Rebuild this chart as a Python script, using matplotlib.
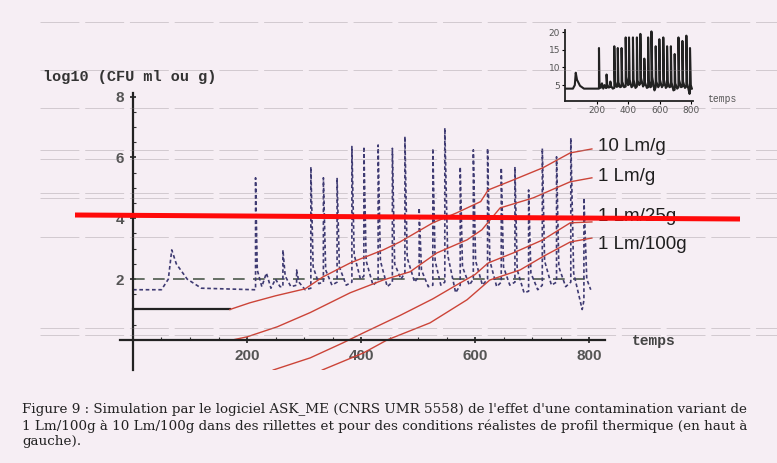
import numpy as np
import matplotlib.pyplot as plt
from matplotlib.lines import Line2D

# growth curves: time, log10(CFU)
c10_t = [170, 205, 250, 302, 333, 381, 439, 468, 526, 568, 610, 623, 667, 719, 767, 805]
c10_y = [1.0, 1.22, 1.45, 1.68, 2.07, 2.53, 2.96, 3.22, 3.85, 4.18, 4.55, 4.93, 5.26, 5.66, 6.15, 6.28]
c1_t = [175, 200, 253, 311, 381, 439, 486, 533, 586, 612, 644, 702, 767, 805]
c1_y = [0.0, 0.1, 0.43, 0.9, 1.55, 1.97, 2.24, 2.86, 3.29, 3.62, 4.34, 4.67, 5.2, 5.33]
c25_t = [246, 311, 368, 404, 468, 526, 568, 600, 623, 667, 719, 767, 805]
c25_y = [-0.99, -0.59, -0.1, 0.23, 0.8, 1.35, 1.81, 2.15, 2.53, 2.86, 3.29, 3.85, 3.88]
c100_t = [332, 404, 446, 521, 586, 626, 679, 720, 767, 805]
c100_y = [-0.99, -0.43, 0.0, 0.56, 1.32, 1.97, 2.3, 2.75, 3.22, 3.35]
lag_t = [0, 170]
lag_y = [1.0, 1.0]
curve_labels = ["10 Lm/g", "1 Lm/g", "1 Lm/25g", "1 Lm/100g"]
label_y = [6.35, 5.36, 4.05, 3.13]

# thermal profile (same time points): scaled in main plot, raw in inset
prof_t = [0, 50, 62, 68, 76, 95, 120, 213,
          215, 215, 218, 226, 234, 242, 250, 258,
          263, 263, 267, 277,
          287, 287, 291, 302,
          312, 312, 316, 326,
          334, 334, 338, 349,
          358, 358, 362, 374,
          384, 384, 388, 399,
          405, 405, 409, 421,
          430, 430, 434, 446,
          455, 455, 459, 470,
          477, 477, 481, 494,
          502, 502, 506, 518,
          526, 526, 530, 540,
          547, 547, 552, 566,
          574, 574, 578, 590,
          597, 597, 601, 613,
          622, 622, 626, 638,
          646, 646, 650, 661,
          670, 670, 674, 686,
          694, 694, 698, 710,
          718, 718, 722, 734,
          743, 743, 747, 759,
          768, 768, 773, 788,
          791, 791, 796, 803]
prof_log = [1.65, 1.65, 2.0, 2.96, 2.5, 2.0, 1.7, 1.65,
            1.65, 5.33, 2.3, 1.75, 2.2, 1.7, 2.0, 1.75,
            1.75, 2.96, 2.1, 1.75,
            1.8, 2.30, 1.9, 1.65,
            1.7, 5.69, 2.4, 1.85,
            1.9, 5.33, 2.3, 1.8,
            1.9, 5.33, 2.4, 1.8,
            1.9, 6.36, 2.8, 2.0,
            2.1, 6.36, 2.6, 1.8,
            1.95, 6.41, 2.6, 1.75,
            1.9, 6.30, 2.5, 2.0,
            2.2, 6.69, 2.7, 1.9,
            2.1, 4.34, 2.3, 1.75,
            1.8, 6.30, 2.6, 1.8,
            1.9, 6.97, 2.8, 1.55,
            1.8, 5.69, 2.4, 1.8,
            2.0, 6.25, 2.6, 1.8,
            2.0, 6.30, 2.6, 1.75,
            1.9, 5.66, 2.4, 1.8,
            1.9, 5.69, 2.3, 1.55,
            1.6, 4.93, 2.2, 1.65,
            1.8, 6.30, 2.6, 1.8,
            1.9, 6.02, 2.4, 1.75,
            1.9, 6.64, 2.2, 1.0,
            1.3, 4.67, 2.0, 1.65]
prof_temp = [4.0, 4.0, 5.0, 8.5, 6.5, 4.8, 4.0, 4.0,
             4.0, 15.5, 5.5, 4.2, 5.5, 4.0, 5.0, 4.2,
             4.2, 8.0, 5.2, 4.3,
             4.5, 6.0, 4.8, 4.0,
             4.2, 16.0, 6.0, 4.5,
             4.6, 15.5, 5.8, 4.4,
             4.6, 15.5, 6.0, 4.4,
             4.6, 18.5, 7.3, 5.0,
             5.2, 18.5, 6.5, 4.4,
             4.8, 18.5, 6.5, 4.2,
             4.6, 18.5, 6.3, 5.0,
             5.5, 19.5, 7.0, 4.6,
             5.2, 12.5, 5.8, 4.2,
             4.4, 18.5, 6.5, 4.4,
             4.6, 20.2, 7.3, 3.5,
             4.4, 16.0, 6.0, 4.4,
             5.0, 18.0, 6.5, 4.4,
             5.0, 18.5, 6.5, 4.2,
             4.6, 16.0, 6.0, 4.4,
             4.6, 16.0, 5.8, 3.5,
             3.7, 13.8, 5.5, 4.0,
             4.4, 18.5, 6.5, 4.4,
             4.6, 17.5, 6.0, 4.2,
             4.6, 19.0, 5.5, 2.5,
             3.0, 15.5, 5.0, 4.0]
limit_t = [0, 800]
limit_y = [2.0, 2.0]

caption = ["Figure 9 : Simulation par le logiciel ASK_ME (CNRS UMR 5558) de l'effet d'une contamination variant de",
           "1 Lm/100g à 10 Lm/100g dans des rillettes et pour des conditions réalistes de profil thermique (en haut à",
           "gauche)."]

W, H = 777, 463
bg = '#f6eef4'
red = '#cc4438'
fig = plt.figure(figsize=(W / 100, H / 100), dpi=100, facecolor=bg)

# faint scan lines of the photocopy
for py in [22, 70, 108, 150, 159, 193, 198, 237, 328, 335]:
    fig.add_artist(Line2D([40 / W, 1], [1 - py / H] * 2, color='#8f868c', lw=0.7,
                          alpha=0.35, dashes=(40, 6)))

ax = fig.add_axes([120 / W, 1 - 370 / H, 485 / W, 277 / H])
ax.set_facecolor('none')
ax.set_xlim(-22.8, 828)
ax.set_ylim(-0.99, 8.12)
for s in ['top', 'right']:
    ax.spines[s].set_visible(False)
for s in ['left', 'bottom']:
    ax.spines[s].set_position(('data', 0))
    ax.spines[s].set_linewidth(1.6)
    ax.spines[s].set_color('#222222')

ax.plot(limit_t, limit_y, color='#4d5a4d', lw=1.2, dashes=(7, 5))
ax.plot(prof_t, prof_log, color='#3e3a72', lw=1.2, dashes=(2.2, 1.6))
ax.plot(lag_t, lag_y, color='#222222', lw=1.6)
for t, y in [(c10_t, c10_y), (c1_t, c1_y), (c25_t, c25_y), (c100_t, c100_y)]:
    ax.plot(t, y, color=red, lw=1.0)
for lab, ly in zip(curve_labels, label_y):
    ax.text(816, ly, lab, fontsize=13.5, family='Liberation Sans', color='#1e1e1e', va='center')

ax.set_xticks([200, 400, 600, 800])
ax.set_yticks([2, 4, 6, 8])
ax.set_xticks(np.arange(50, 801, 50), minor=True)
ax.set_yticks(np.arange(0.5, 8.01, 0.5), minor=True)
ax.tick_params(which='major', direction='inout', length=5, width=1.2, color='#222222',
               labelsize=11, labelcolor='#555555', pad=4)
ax.tick_params(which='minor', direction='in', length=2.5, width=0.8, color='#333333')
for lb in ax.get_xticklabels() + ax.get_yticklabels():
    lb.set_fontweight('bold')
    lb.set_family('Liberation Sans')

fig.text(43 / W, 1 - 77 / H, "log10 (CFU ml ou g)", family='Liberation Mono',
         fontsize=11, fontweight='bold', color='#333333', va='center')
fig.text(632 / W, 1 - 341 / H, "temps", family='Liberation Mono', fontsize=10.5,
         fontweight='bold', color='#444444', va='center')

# inset: thermal profile
ins = fig.add_axes([565 / W, 1 - 101 / H, 128 / W, 71 / H])
ins.set_facecolor('none')
ins.set_xlim(0, 810)
ins.set_ylim(0.5, 20.6)
for s in ['top', 'right']:
    ins.spines[s].set_visible(False)
for s in ['left', 'bottom']:
    ins.spines[s].set_linewidth(1.3)
    ins.spines[s].set_color('#222222')
ins.plot(prof_t, prof_temp, color='#222222', lw=1.5)
ins.set_xticks([200, 400, 600, 800])
ins.set_yticks([5, 10, 15, 20])
ins.tick_params(length=2, width=0.8, labelsize=6.5, labelcolor='#555555', pad=1.5)
fig.text(707 / W, 1 - 99 / H, "temps", family='Liberation Mono', fontsize=7,
         color='#555555', va='center')

# caption
for i, line in enumerate(caption):
    fig.text(22 / W, 1 - (410 + 16 * i) / H, line, family='DejaVu Serif',
             fontsize=9.7, color='#222222', va='center')

# red marker line drawn over the scan
fig.add_artist(Line2D([75 / W, 740 / W], [1 - 215 / H, 1 - 219 / H], color='#ff0a0a',
                      lw=3.6, solid_capstyle='butt'))

fig.savefig('out.png', dpi=100, facecolor=bg)
